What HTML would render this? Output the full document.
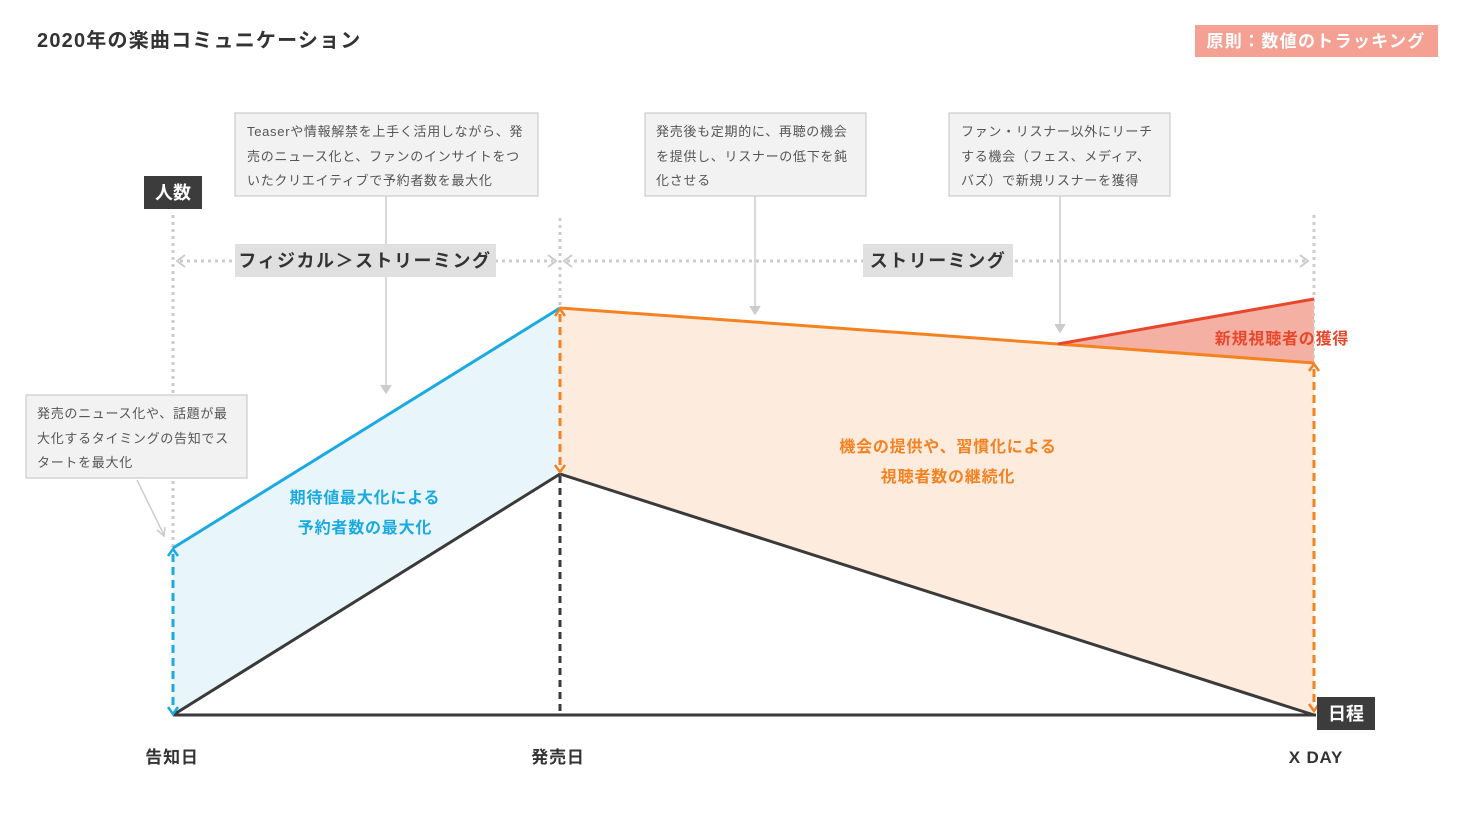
<!DOCTYPE html>
<html><head><meta charset="utf-8"><style>
html,body{margin:0;padding:0;background:#fff}
svg{display:block}
text{font-family:"Liberation Sans","Noto Sans CJK JP",sans-serif}
</style></head><body>
<svg width="1460" height="821" viewBox="0 0 1460 821" xmlns="http://www.w3.org/2000/svg">
<text x="37" y="47" font-size="20" font-weight="bold" fill="#333" letter-spacing="1.2">2020年の楽曲コミュニケーション</text>
<rect x="1195" y="25" width="243" height="32" fill="#f4a093"/>
<text x="1316" y="47" font-size="17" font-weight="bold" fill="#fff" text-anchor="middle" letter-spacing="1.3">原則：数値のトラッキング</text>

<polygon points="173,548 560,308 560,474 173,715" fill="#e8f6fc"/>
<polygon points="560,308 1058,344 1314,363 1314,715 560,474" fill="#fdebde"/>
<polygon points="1058,344 1314,299 1314,363" fill="#f5b0a4"/>

<g stroke="#ccc" stroke-width="3" stroke-dasharray="3 4">
<line x1="173" y1="215" x2="173" y2="548"/>
<line x1="560" y1="218" x2="560" y2="308"/>
<line x1="1314" y1="215" x2="1314" y2="299"/>
<line x1="1314" y1="299" x2="1314" y2="363" stroke-width="2"/>
<line x1="180" y1="261" x2="553" y2="261"/>
<line x1="567" y1="261" x2="1308" y2="261"/>
</g>
<g fill="none" stroke="#ccc" stroke-width="2">
<path d="M185,255 L177,261 L185,267"/>
<path d="M548,255 L556,261 L548,267"/>
<path d="M572,255 L564,261 L572,267"/>
<path d="M1300,255 L1308,261 L1300,267"/>
</g>

<g stroke="#ccc" stroke-width="1.5" fill="none">
<line x1="386" y1="196" x2="386" y2="392"/><path d="M381,385 L386,393 L391,385" fill="#ccc"/>
<line x1="755" y1="196" x2="755" y2="313"/><path d="M750,306 L755,314 L760,306" fill="#ccc"/>
<line x1="1060" y1="196" x2="1060" y2="331"/><path d="M1055,324 L1060,332 L1065,324" fill="#ccc"/>
<line x1="137" y1="480" x2="164" y2="535"/><path d="M157,530 L164,536 L165,527"/>
</g>

<rect x="235" y="244" width="261" height="33" fill="#e0e0e0"/>
<text x="365" y="267" font-size="18" font-weight="bold" fill="#333" text-anchor="middle" letter-spacing="1.5">フィジカル＞ストリーミング</text>
<rect x="863" y="244" width="150" height="33" fill="#e0e0e0"/>
<text x="938" y="267" font-size="18" font-weight="bold" fill="#333" text-anchor="middle" letter-spacing="1.5">ストリーミング</text>

<g fill="#f2f2f2" stroke="#ccc" stroke-width="1.2">
<rect x="235" y="113" width="303" height="83"/>
<rect x="645" y="113" width="221" height="83"/>
<rect x="949" y="113" width="221" height="83"/>
<rect x="26" y="395" width="221" height="83"/>
</g>
<g font-size="13" fill="#555" letter-spacing="0.7">
<text x="247" y="136">Teaserや情報解禁を上手く活用しながら、発</text>
<text x="247" y="161">売のニュース化と、ファンのインサイトをつ</text>
<text x="247" y="185">いたクリエイティブで予約者数を最大化</text>
<text x="656" y="136">発売後も定期的に、再聴の機会</text>
<text x="656" y="161">を提供し、リスナーの低下を鈍</text>
<text x="656" y="185">化させる</text>
<text x="961" y="136">ファン・リスナー以外にリーチ</text>
<text x="961" y="161">する機会（フェス、メディア、</text>
<text x="961" y="185">バズ）で新規リスナーを獲得</text>
<text x="37" y="418">発売のニュース化や、話題が最</text>
<text x="37" y="443">大化するタイミングの告知でス</text>
<text x="37" y="467">タートを最大化</text>
</g>

<line x1="173" y1="548" x2="560" y2="308" stroke="#1aa9e1" stroke-width="3"/>
<polyline points="560,308 1058,344 1314,363" fill="none" stroke="#f58220" stroke-width="3"/>
<line x1="1058" y1="344" x2="1314" y2="299" stroke="#e8472c" stroke-width="3"/>
<polyline points="173,715 560,474 1314,715" fill="none" stroke="#3a3a3a" stroke-width="3"/>
<line x1="560" y1="476" x2="560" y2="715" stroke="#3a3a3a" stroke-width="3" stroke-dasharray="7 5"/>
<line x1="173" y1="715" x2="1316" y2="715" stroke="#3a3a3a" stroke-width="3"/>

<g stroke-width="3" fill="none" stroke-dasharray="8 5">
<line x1="173" y1="554" x2="173" y2="709" stroke="#1aa9e1"/>
<line x1="560" y1="314" x2="560" y2="468" stroke="#f58220"/>
<line x1="1314" y1="369" x2="1314" y2="707" stroke="#f58220"/>
</g>
<g stroke-width="2.5" fill="none">
<path d="M168,556 L173,549 L178,556 M168,707 L173,714 L178,707" stroke="#1aa9e1"/>
<path d="M555,316 L560,309 L565,316 M555,465 L560,472 L565,465" stroke="#f58220"/>
<path d="M1309,371 L1314,364 L1319,371 M1309,704 L1314,711 L1319,704" stroke="#f58220"/>
</g>

<rect x="144" y="176" width="58" height="33" fill="#3c3c3c"/>
<text x="173" y="199" font-size="18" font-weight="bold" fill="#fff" text-anchor="middle">人数</text>
<rect x="1317" y="697" width="58" height="33" fill="#3c3c3c"/>
<text x="1346" y="720" font-size="18" font-weight="bold" fill="#fff" text-anchor="middle">日程</text>

<g font-size="16" font-weight="bold" text-anchor="middle" letter-spacing="0.8">
<text x="365" y="503" fill="#1aa9e1">期待値最大化による</text>
<text x="365" y="533" fill="#1aa9e1">予約者数の最大化</text>
<text x="948" y="452" fill="#f58220">機会の提供や、習慣化による</text>
<text x="948" y="482" fill="#f58220">視聴者数の継続化</text>
<text x="1282" y="344" fill="#e8472c">新規視聴者の獲得</text>
</g>

<g font-size="17" font-weight="bold" fill="#333" text-anchor="middle" letter-spacing="0.8">
<text x="172" y="763">告知日</text>
<text x="558" y="763">発売日</text>
<text x="1316" y="763">X DAY</text>
</g>
</svg>
</body></html>
